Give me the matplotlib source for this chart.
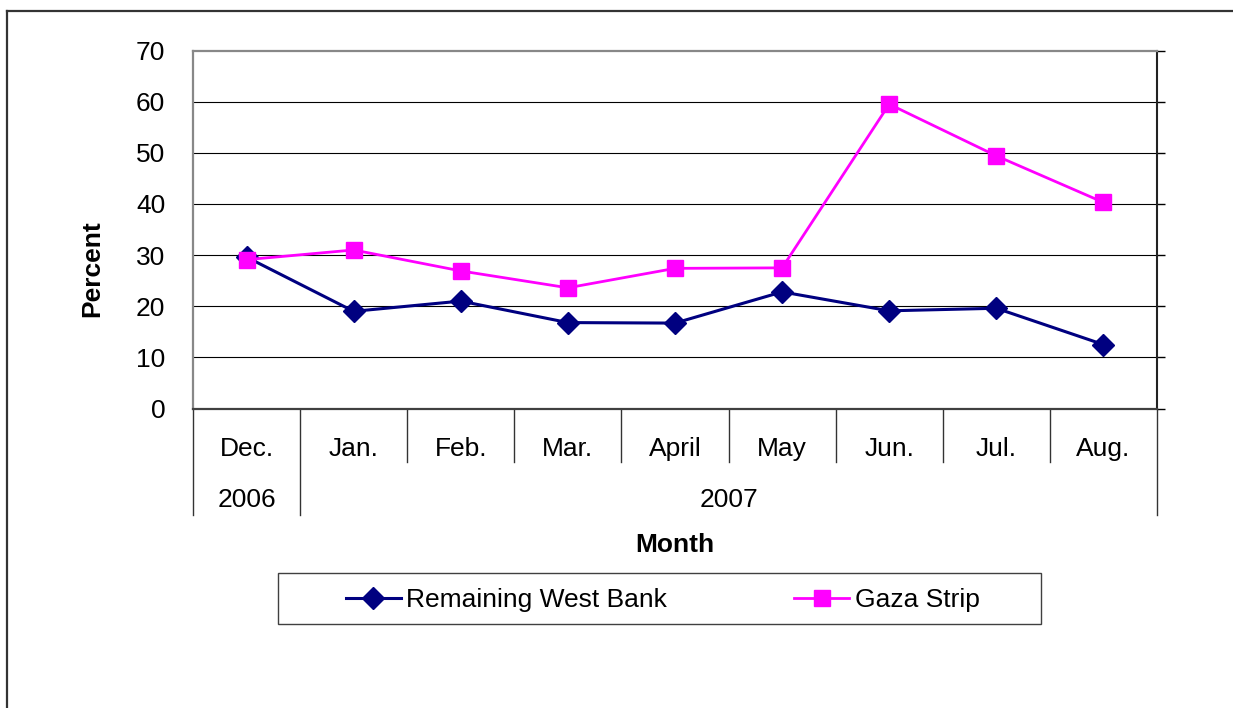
import matplotlib
matplotlib.use("Agg")
import matplotlib.pyplot as plt
import matplotlib.transforms as mtransforms
from matplotlib.lines import Line2D
from matplotlib.patches import Rectangle

months = ["Dec.", "Jan.", "Feb.", "Mar.", "April", "May", "Jun.", "Jul.", "Aug."]
years = ["2006", "2007"]
west_bank = [29.6, 19.0, 21.0, 16.8, 16.7, 22.8, 19.1, 19.6, 12.5]
gaza = [29.1, 31.0, 26.9, 23.6, 27.4, 27.5, 59.5, 49.4, 40.3]
yticks = [0, 10, 20, 30, 40, 50, 60, 70]

plt.rcParams['font.family'] = ['Liberation Sans', 'DejaVu Sans']

W, H = 1233, 708
fig = plt.figure(figsize=(W / 100, H / 100), dpi=100)

# plot area in pixels
L, R, T, B = 193, 1157, 50.5, 408.5
ax = fig.add_axes([L / W, 1 - B / H, (R - L) / W, (B - T) / H])

x = list(range(len(months)))
ax.plot(x, west_bank, color='#000080', lw=2.2, marker='D', ms=11,
        zorder=3, label='Remaining West Bank')
ax.plot(x, gaza, color='#FF00FF', lw=2, marker='s', ms=11,
        zorder=4, label='Gaza Strip')

ax.set_xlim(-0.5, len(months) - 0.5)
ax.set_ylim(0, 70)
ax.set_yticks(yticks)
ax.set_xticks([])
for v in yticks[1:-1]:
    ax.axhline(v, color='black', lw=0.8, zorder=1)

ax.spines['left'].set_color('#888888')
ax.spines['left'].set_linewidth(1.6)
ax.spines['top'].set_color('#888888')
ax.spines['top'].set_linewidth(1.6)
ax.spines['bottom'].set_color('#404040')
ax.spines['bottom'].set_linewidth(1.6)
ax.spines['right'].set_color('#222222')
ax.spines['right'].set_linewidth(1.5)
ax.tick_params(axis='y', left=False, right=True, direction='out',
               length=6, width=1, labelsize=19, pad=14)

# category table below the axis
trans = mtransforms.blended_transform_factory(ax.transData, ax.transAxes)
ah = B - T
row1 = -(462 - B) / ah
row2 = -(515 - B) / ah
for xs in [-0.5, len(months) - 0.5, 0.5]:
    ax.add_line(Line2D([xs, xs], [0, row2], transform=trans, color='#333333',
                       lw=1, clip_on=False))
for xs in [i + 0.5 for i in range(1, len(months) - 1)]:
    ax.add_line(Line2D([xs, xs], [0, row1], transform=trans, color='#333333',
                       lw=1, clip_on=False))
for i, m in enumerate(months):
    ax.text(i, -(449 - B) / ah, m, transform=trans, ha='center', va='center',
            fontsize=19)
ax.text(0, -(500 - B) / ah, years[0], transform=trans, ha='center',
        va='center', fontsize=19)
ax.text((0.5 + len(months) - 0.5) / 2, -(500 - B) / ah, years[1],
        transform=trans, ha='center', va='center', fontsize=19)

fig.text(675 / W, 1 - 545 / H, 'Month', ha='center', va='center',
         fontsize=19, fontweight='bold')
fig.text(92 / W, 1 - 269 / H, 'Percent', ha='center', va='center',
         fontsize=19, fontweight='bold', rotation=90)

# legend
fig.add_artist(Rectangle((278 / W, 1 - 624 / H), 763 / W, 51 / H,
                         transform=fig.transFigure, fill=False,
                         edgecolor='#404040', lw=1))
fig.legend(loc='center', bbox_to_anchor=(662.5 / W, 1 - 600.5 / H),
           ncol=2, frameon=False, fontsize=19, handlelength=2.1,
           handletextpad=0.2, columnspacing=4.8)

# outer chart frame
fig.add_artist(Line2D([7 / W, 7 / W], [1 - 11 / H, 0], transform=fig.transFigure,
                      color='#333333', lw=1.6))
fig.add_artist(Line2D([7 / W, 1], [1 - 11 / H, 1 - 11 / H],
                      transform=fig.transFigure, color='#333333', lw=1.6))

fig.savefig("out.png", dpi=100)
